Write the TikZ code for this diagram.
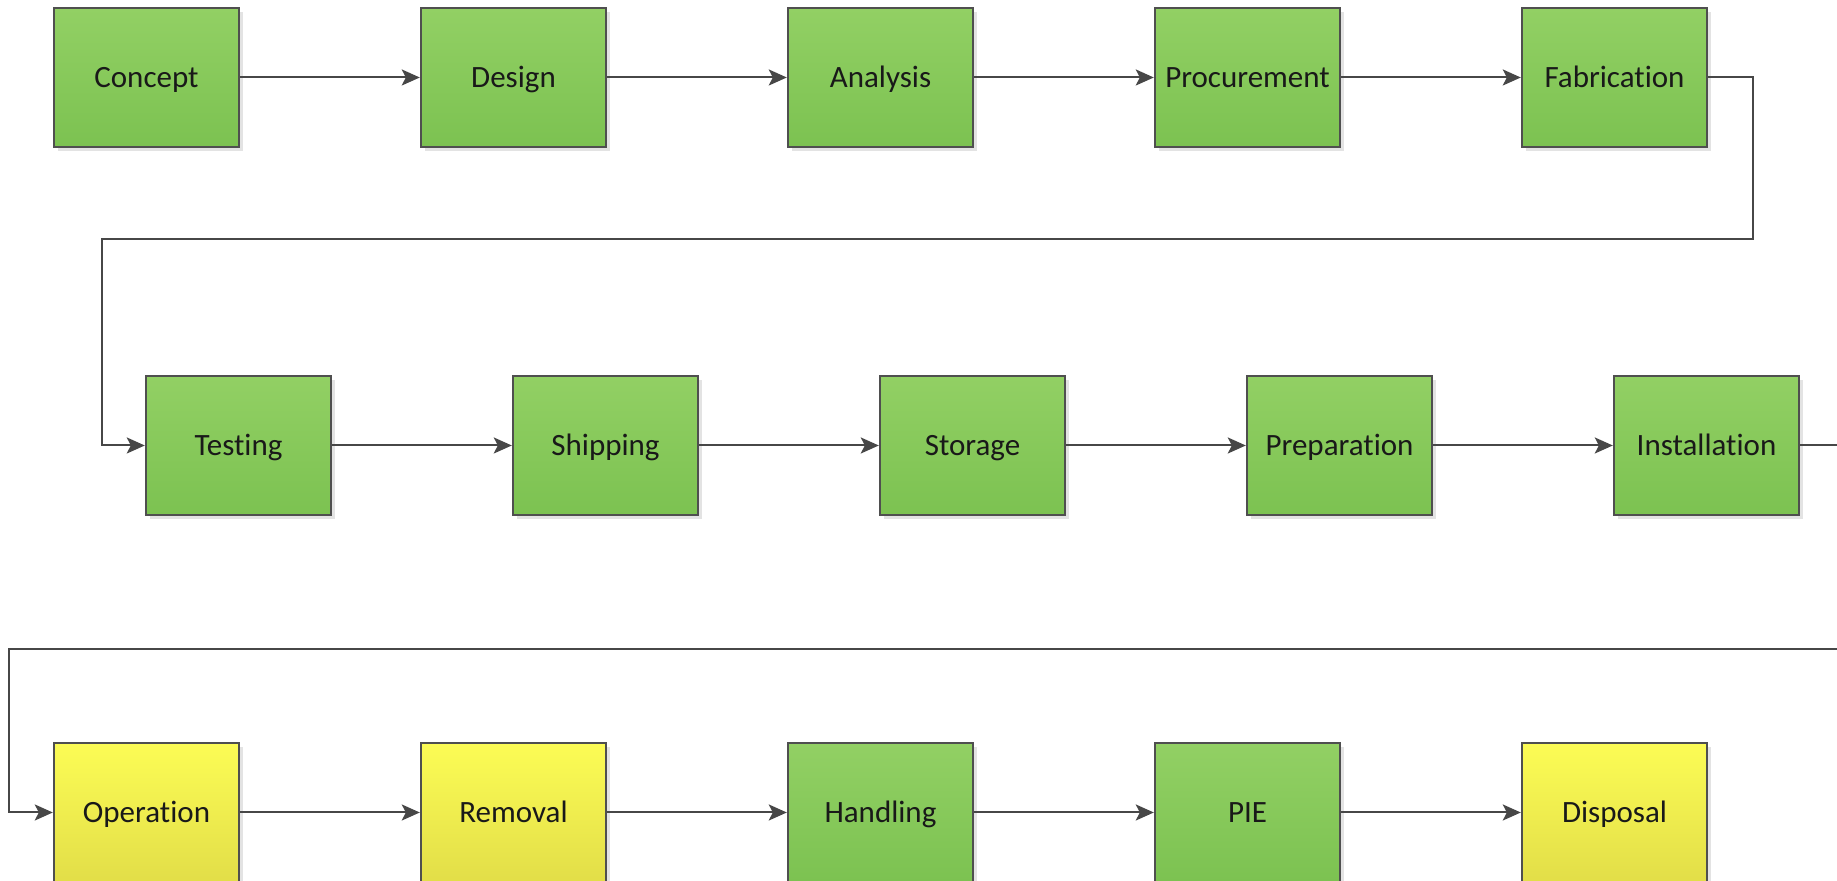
\documentclass[tikz,border=0pt]{standalone}
\usepackage{fontspec}
\setmainfont{Carlito}[Ligatures=NoCommon]
\usetikzlibrary{arrows.meta,shadows}
\definecolor{stagegreentop}{HTML}{92D064}
\definecolor{stagegreenbot}{HTML}{7CC251}
\definecolor{stageyellowtop}{HTML}{FCFC55}
\definecolor{stageyellowbot}{HTML}{E2DE48}
\definecolor{stageline}{HTML}{4F4F4F}
\definecolor{flowline}{HTML}{474747}
\tikzset{
  stage/.style={draw=stageline, line width=1.2pt, minimum width=92.5pt, minimum height=69.5pt,
                font=\fontsize{15.5}{18}\selectfont, text=black!90, inner sep=0pt,
                text height=9.8pt, text depth=0pt,
                drop shadow={shadow xshift=2pt, shadow yshift=-2pt, fill=black!18, opacity=0.6}},
  greenstage/.style={stage, top color=stagegreentop, bottom color=stagegreenbot},
  yellowstage/.style={stage, top color=stageyellowtop, bottom color=stageyellowbot},
  flow/.style={draw=flowline, line width=1pt,
               -{Stealth[length=9pt, width=8pt, inset=2pt]}},
}

\begin{document}
\begin{tikzpicture}[x=0.5pt, y=0.5pt]
    \clip (0,0) rectangle (1837,881);
    \fill[white] (0,0) rectangle (1837,881);
    % first row
    \node[greenstage] (concept) at (146.5, 803.5) {Concept};
    \node[greenstage] (design) at (513.5, 803.5) {Design};
    \node[greenstage] (analysis) at (880.5, 803.5) {Analysis};
    \node[greenstage] (procurement) at (1247.5, 803.5) {Procurement};
    \node[greenstage] (fabrication) at (1614.5, 803.5) {Fabrication};
    % second row
    \node[greenstage] (testing) at (238.5, 435.5) {Testing};
    \node[greenstage] (shipping) at (605.5, 435.5) {Shipping};
    \node[greenstage] (storage) at (972.5, 435.5) {Storage};
    \node[greenstage] (preparation) at (1339.5, 435.5) {Preparation};
    \node[greenstage] (installation) at (1706.5, 435.5) {Installation};
    % third row
    \node[yellowstage] (operation) at (146.5, 68.5) {Operation};
    \node[yellowstage] (removal) at (513.5, 68.5) {Removal};
    \node[greenstage] (handling) at (880.5, 68.5) {Handling};
    \node[greenstage] (pie) at (1247.5, 68.5) {PIE};
    \node[yellowstage] (disposal) at (1614.5, 68.5) {Disposal};
    % row wraps
    \coordinate (wrapa) at (1753, 642);
    \coordinate (wrapb) at (102, 642);
    \coordinate (wrapc) at (1880, 232);
    \coordinate (wrapd) at (9, 232);
    \draw[flow] (concept) -- (design);
    \draw[flow] (design) -- (analysis);
    \draw[flow] (analysis) -- (procurement);
    \draw[flow] (procurement) -- (fabrication);
    \draw[flow] (fabrication.east) -| (wrapa) -- (wrapb) |- (testing.west);
    \draw[flow] (testing) -- (shipping);
    \draw[flow] (shipping) -- (storage);
    \draw[flow] (storage) -- (preparation);
    \draw[flow] (preparation) -- (installation);
    \draw[flow] (installation.east) -| (wrapc) -- (wrapd) |- (operation.west);
    \draw[flow] (operation) -- (removal);
    \draw[flow] (removal) -- (handling);
    \draw[flow] (handling) -- (pie);
    \draw[flow] (pie) -- (disposal);
\end{tikzpicture}
\end{document}
